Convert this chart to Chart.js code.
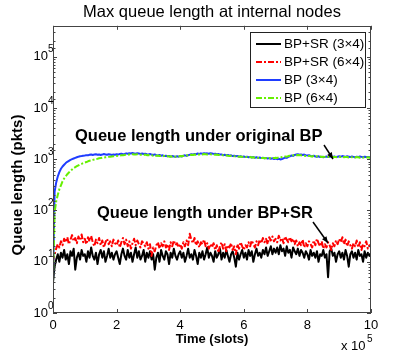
<!DOCTYPE html>
<html><head><meta charset="utf-8">
<script src="https://cdn.jsdelivr.net/npm/chart.js@4/dist/chart.umd.min.js"></script>
<style>html,body{margin:0;padding:0;background:#fff}#wrap{width:410px;height:353px;position:relative}</style>
</head><body><div id="wrap"><canvas id="c" width="410" height="353"></canvas></div>
<script>
// time in units of 10^5 slots
const times = [
0,0.05,0.1,0.15,0.2,0.25,0.3,0.35,0.4,0.45,0.5,0.55,0.6,0.65,0.7,0.75,0.8,0.85,0.9,0.95,
1,1.05,1.1,1.15,1.2,1.25,1.3,1.35,1.4,1.45,1.5,1.55,1.6,1.65,1.7,1.75,1.8,1.85,1.9,1.95,
2,2.05,2.1,2.15,2.2,2.25,2.3,2.35,2.4,2.45,2.5,2.55,2.6,2.65,2.7,2.75,2.8,2.85,2.9,2.95,
3,3.05,3.1,3.15,3.2,3.25,3.3,3.35,3.4,3.45,3.5,3.55,3.6,3.65,3.7,3.75,3.8,3.85,3.9,3.95,
4,4.05,4.1,4.15,4.2,4.25,4.3,4.35,4.4,4.45,4.5,4.55,4.6,4.65,4.7,4.75,4.8,4.85,4.9,4.95,
5,5.05,5.1,5.15,5.2,5.25,5.3,5.35,5.4,5.45,5.5,5.55,5.6,5.65,5.7,5.75,5.8,5.85,5.9,5.95,
6,6.05,6.1,6.15,6.2,6.25,6.3,6.35,6.4,6.45,6.5,6.55,6.6,6.65,6.7,6.75,6.8,6.85,6.9,6.95,
7,7.05,7.1,7.15,7.2,7.25,7.3,7.35,7.4,7.45,7.5,7.55,7.6,7.65,7.7,7.75,7.8,7.85,7.9,7.95,
8,8.05,8.1,8.15,8.2,8.25,8.3,8.35,8.4,8.45,8.5,8.55,8.6,8.65,8.7,8.75,8.8,8.85,8.9,8.95,
9,9.05,9.1,9.15,9.2,9.25,9.3,9.35,9.4,9.45,9.5,9.55,9.6,9.65,9.7,9.75,9.8,9.85,9.9,9.95,
10];
const bpsr3x4 = [
4,8,11,14,10,15,12,17,11,14,9,16,13,18,7,12,15,11,17,13,
14,10,16,12,19,13,11,15,9,14,17,12,16,10,13,18,12,15,11,14,
16,12,9,14,18,13,11,17,12,15,10,14,19,12,16,11,13,17,10,15,
12,16,11,14,7,12,15,10,17,13,11,16,14,9,15,12,18,13,11,14,
16,12,15,10,13,18,12,14,11,17,13,9,15,12,16,11,14,19,12,15,
13,10,16,12,14,18,11,15,12,17,13,10,14,16,12,8,15,11,14,17,
12,15,11,17,13,16,10,14,18,13,15,12,17,14,19,13,16,20,14,18,
15,19,14,21,16,18,13,20,15,17,12,19,16,14,18,13,17,15,12,16,
14,11,17,13,15,12,16,10,14,13,17,12,14,5,16,18,13,15,10,14,
16,12,15,11,17,13,8,14,16,12,15,11,17,13,14,10,16,12,15,13,
14];
const bpsr6x4 = [
10,14,18,22,19,25,21,28,24,30,22,27,33,25,29,23,31,26,34,24,
28,22,30,25,32,24,20,27,23,29,21,26,19,24,28,22,25,20,27,23,
21,26,19,24,29,22,27,20,25,18,23,28,21,26,22,19,25,23,20,24,
18,22,13,19,16,21,24,18,23,20,25,19,22,17,24,20,26,21,23,19,
22,18,24,20,26,21,35,27,23,29,21,25,19,24,22,27,20,23,18,22,
19,23,17,21,15,20,24,18,22,16,21,19,23,17,20,14,22,18,24,20,
17,21,19,24,20,26,22,19,25,21,27,23,29,24,28,22,30,26,31,25,
28,24,32,26,29,23,31,27,24,30,25,28,22,26,20,24,21,27,19,23,
20,25,22,19,26,21,28,23,20,25,18,22,19,24,21,17,23,20,26,22,
28,24,30,22,27,20,25,21,18,23,20,26,19,24,17,22,20,25,18,21,
19];
const bp3x4 = [
4,230,350,460,560,650,720,780,840,890,930,970,1000,1030,1060,1090,1120,1140,1150,1170,
1180,1200,1190,1220,1240,1210,1230,1250,1220,1240,1210,1230,1260,1240,1220,1250,1230,1210,1240,1220,
1250,1230,1260,1280,1250,1270,1300,1280,1310,1290,1320,1300,1280,1310,1290,1270,1290,1260,1280,1250,
1240,1260,1230,1210,1240,1200,1180,1210,1170,1190,1150,1170,1140,1160,1120,1150,1130,1110,1140,1120,
1150,1130,1170,1190,1160,1200,1220,1250,1230,1270,1250,1290,1270,1300,1280,1310,1290,1300,1280,1310,
1290,1270,1280,1250,1260,1230,1240,1200,1220,1190,1210,1170,1190,1150,1170,1140,1160,1120,1140,1110,
1130,1100,1120,1090,1110,1080,1100,1070,1090,1060,1080,1050,1070,1040,1060,1030,1050,1020,1040,1010,
1030,1000,1020,990,1010,1040,1080,1060,1110,1140,1180,1160,1210,1230,1250,1220,1240,1210,1230,1200,
1180,1200,1160,1140,1170,1130,1110,1140,1100,1120,1090,1110,1130,1100,1120,1140,1110,1130,1100,1120,
1140,1120,1150,1130,1110,1140,1120,1100,1130,1110,1090,1120,1100,1130,1110,1090,1120,1100,1110,1090,
1100];
const bp6x4 = [
4,90,150,200,260,310,370,420,460,510,550,590,630,670,700,730,760,790,810,840,
860,880,910,930,950,970,990,1010,1020,1040,1050,1070,1080,1090,1100,1110,1120,1130,1140,1150,
1160,1170,1180,1190,1200,1210,1230,1220,1240,1230,1250,1240,1230,1250,1240,1220,1240,1210,1230,1200,
1210,1190,1200,1170,1190,1160,1180,1150,1170,1140,1160,1130,1150,1120,1140,1110,1130,1120,1140,1130,
1150,1140,1160,1170,1190,1180,1200,1220,1210,1230,1220,1240,1230,1250,1240,1260,1250,1240,1260,1250,
1240,1230,1220,1230,1210,1200,1210,1190,1180,1190,1170,1160,1170,1150,1140,1150,1130,1120,1130,1110,
1120,1100,1110,1090,1100,1080,1090,1070,1080,1060,1070,1050,1060,1040,1050,1030,1050,1040,1060,1050,
1070,1060,1080,1100,1090,1110,1130,1120,1150,1170,1160,1190,1200,1190,1210,1200,1190,1180,1170,1160,
1150,1160,1140,1130,1150,1120,1140,1110,1130,1100,1120,1110,1090,1110,1100,1120,1090,1110,1100,1090,
1110,1100,1120,1090,1110,1100,1080,1100,1090,1110,1080,1100,1090,1070,1090,1080,1100,1080,1090,1070,
1080];
const seriesLabels = ['BP+SR (3\u00d74)','BP+SR (6\u00d74)','BP (3\u00d74)','BP (6\u00d74)'];
const xTickValues = [0,2,4,6,8,10];
const yDecades = [1,10,100,1000,10000,100000];
const xMin = 0, xMax = 10, yMin = 1, yMax = 400000;
const titleText = 'Max queue length at internal nodes';
const xTitle = 'Time (slots)';
const yTitle = 'Queue length (pkts)';
const xMultiplierExp = '5';
const noteBP = 'Queue length under original BP';
const noteSR = 'Queue length under BP+SR';

const FONT = '"Liberation Sans", Arial, Helvetica, sans-serif';
const pts = (arr) => arr.map((v, i) => ({x: times[i], y: v}));

const decor = {
  id: 'decor',
  afterDraw(chart) {
    const ctx = chart.ctx, a = chart.chartArea;
    const xs = chart.scales.x, ys = chart.scales.y;
    ctx.save();
    // frame
    ctx.strokeStyle = '#444'; ctx.lineWidth = 1;
    ctx.strokeRect(Math.round(a.left) + 0.5, Math.round(a.top) + 0.5, Math.round(a.right - a.left) - 1, Math.round(a.bottom - a.top) - 1);
    // x ticks inward
    ctx.beginPath();
    xs.ticks.forEach(t => {
      const p = Math.round(xs.getPixelForValue(t.value)) + 0.5;
      ctx.moveTo(p, a.bottom); ctx.lineTo(p, a.bottom - 4);
      ctx.moveTo(p, a.top); ctx.lineTo(p, a.top + 4);
    });
    // y ticks inward (major / minor)
    ys.ticks.forEach(t => {
      if (t.value > yMax || t.value < yMin) return;
      const p = Math.round(ys.getPixelForValue(t.value)) + 0.5;
      const major = yDecades.includes(t.value);
      const L = major ? 4 : 2.5;
      ctx.moveTo(a.left, p); ctx.lineTo(a.left + L, p);
      ctx.moveTo(a.right, p); ctx.lineTo(a.right - L, p);
    });
    ctx.stroke();
    // y exponent superscripts
    ctx.fillStyle = '#000';
    ctx.font = '10px ' + FONT; ctx.textAlign = 'left'; ctx.textBaseline = 'middle';
    yDecades.forEach(v => {
      const p = ys.getPixelForValue(v);
      ctx.fillText(String(Math.round(Math.log10(v))), a.left - 5, p - 7);
    });
    // y axis title
    ctx.save();
    ctx.translate(18, 185); ctx.rotate(-Math.PI / 2);
    ctx.font = 'bold 15px ' + FONT; ctx.textAlign = 'center'; ctx.textBaseline = 'middle';
    ctx.fillText(yTitle, 0, 0);
    ctx.restore();
    // x multiplier
    ctx.font = '13px ' + FONT; ctx.textBaseline = 'alphabetic'; ctx.textAlign = 'left';
    ctx.fillText('x 10', 341, 350);
    ctx.font = '10px ' + FONT;
    ctx.fillText(xMultiplierExp, 367, 342);
    // legend
    const lx = 250, ly = 32, lw = 115, lh = 75;
    ctx.fillStyle = '#fff'; ctx.fillRect(lx, ly, lw, lh);
    ctx.strokeStyle = '#222'; ctx.lineWidth = 1;
    ctx.strokeRect(lx + 0.5, ly + 0.5, lw, lh);
    chart.data.datasets.forEach((d, i) => {
      const y = ly + 12 + i * 18;
      ctx.save();
      ctx.strokeStyle = d.borderColor; ctx.lineWidth = d.borderWidth;
      ctx.setLineDash(d.borderDash || []);
      ctx.beginPath(); ctx.moveTo(256, y); ctx.lineTo(281, y); ctx.stroke();
      ctx.restore();
      ctx.fillStyle = '#000'; ctx.font = '13.5px ' + FONT; ctx.textBaseline = 'middle'; ctx.textAlign = 'left';
      ctx.fillText(d.label, 284, y + 0.5);
    });
    // annotations
    ctx.fillStyle = '#000'; ctx.font = 'bold 16.5px ' + FONT; ctx.textBaseline = 'middle'; ctx.textAlign = 'left';
    ctx.fillText(noteBP, 75, 136);
    ctx.fillText(noteSR, 97, 213);
    const arrow = (x1, y1, x2, y2) => {
      ctx.strokeStyle = '#000'; ctx.lineWidth = 1.5;
      ctx.beginPath(); ctx.moveTo(x1, y1); ctx.lineTo(x2, y2); ctx.stroke();
      const ang = Math.atan2(y2 - y1, x2 - x1), L = 7, w = 0.4;
      ctx.beginPath(); ctx.moveTo(x2, y2);
      ctx.lineTo(x2 - L * Math.cos(ang - w), y2 - L * Math.sin(ang - w));
      ctx.lineTo(x2 - L * Math.cos(ang + w), y2 - L * Math.sin(ang + w));
      ctx.closePath(); ctx.fill();
    };
    arrow(324, 145, 333, 159);
    arrow(313, 222, 328, 243);
    ctx.restore();
  }
};

new Chart(document.getElementById('c'), {
  type: 'line',
  data: {
    datasets: [
      {label: seriesLabels[0], data: pts(bpsr3x4), borderColor: '#000000', borderWidth: 2, order: 4},
      {label: seriesLabels[1], data: pts(bpsr6x4), borderColor: '#ff0000', borderWidth: 2, borderDash: [6, 2, 2, 2], order: 3},
      {label: seriesLabels[2], data: pts(bp3x4), borderColor: '#1f3dff', borderWidth: 2, order: 2},
      {label: seriesLabels[3], data: pts(bp6x4), borderColor: '#66f000', borderWidth: 2, borderDash: [6, 2, 2, 2], order: 1}
    ]
  },
  options: {
    responsive: false, animation: false, devicePixelRatio: 1,
    elements: {point: {radius: 0}, line: {tension: 0, borderJoinStyle: 'round'}},
    layout: {padding: {left: 0, right: 39, top: 0, bottom: 0}},
    plugins: {
      legend: {display: false}, tooltip: {enabled: false},
      title: {display: true, text: titleText, fullSize: false, color: '#000',
        font: {family: FONT, size: 16.5, weight: 'normal'}, padding: {top: 3, bottom: 3}}
    },
    scales: {
      x: {type: 'linear', min: xMin, max: xMax, position: 'bottom',
        afterFit(s) { s.height = 40; },
        afterBuildTicks(s) { s.ticks = xTickValues.map(v => ({value: v})); },
        grid: {display: false, drawTicks: false}, border: {display: false},
        ticks: {color: '#000', font: {family: FONT, size: 13}, padding: 5, maxRotation: 0},
        title: {display: true, text: xTitle, color: '#000', font: {family: FONT, size: 13, weight: 'bold'}, padding: {top: 0, bottom: 6}}
      },
      y: {type: 'logarithmic', min: yMin, max: yMax, position: 'left',
        afterFit(s) { s.width = 53; },
        grid: {display: false, drawTicks: false}, border: {display: false},
        ticks: {color: '#000', font: {family: FONT, size: 13}, padding: 5, autoSkip: false,
          callback: (v) => yDecades.includes(v) ? '10' : ''},
        title: {display: false, text: yTitle}
      }
    }
  },
  plugins: [decor]
});
</script></body></html>
